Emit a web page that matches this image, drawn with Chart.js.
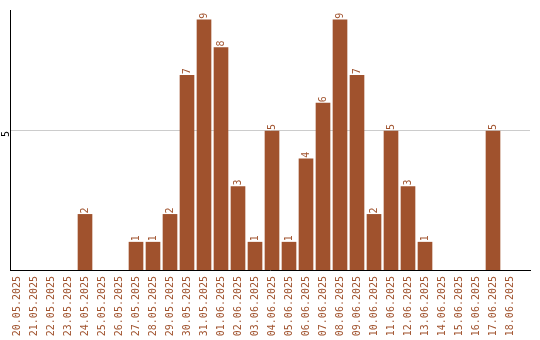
<!DOCTYPE html>
<html>
<head>
<meta charset="utf-8">
<script src="https://cdn.jsdelivr.net/npm/chart.js@4/dist/chart.umd.min.js"></script>
<style>
  html, body { margin: 0; padding: 0; background: #fff; }
</style>
</head>
<body>
<canvas id="dailyChart" width="540" height="340"></canvas>
<script>
// dates along the x axis
const dates = [
    '20.05.2025', '21.05.2025', '22.05.2025', '23.05.2025', '24.05.2025',
    '25.05.2025', '26.05.2025', '27.05.2025', '28.05.2025', '29.05.2025',
    '30.05.2025', '31.05.2025', '01.06.2025', '02.06.2025', '03.06.2025',
    '04.06.2025', '05.06.2025', '06.06.2025', '07.06.2025', '08.06.2025',
    '09.06.2025', '10.06.2025', '11.06.2025', '12.06.2025', '13.06.2025',
    '14.06.2025', '15.06.2025', '16.06.2025', '17.06.2025', '18.06.2025'
];
// count per day
const counts = [0, 0, 0, 0, 2, 0, 0, 1, 1, 2, 7, 9, 8, 3, 1, 5, 1, 4, 6, 9, 7, 2, 5, 3, 1, 0, 0, 0, 5, 0];
// y axis ticks that are labelled
const yTicks = [5];

const barColor = '#A0522D';
const monoFont = { family: 'DejaVu Sans Mono', size: 10 };

// values written above every bar, rotated like the axis labels
const barValues = {
    id: 'barValues',
    afterDatasetsDraw(chart) {
        const ctx = chart.ctx;
        const meta = chart.getDatasetMeta(0);
        ctx.save();
        ctx.fillStyle = barColor;
        ctx.font = '10px "DejaVu Sans Mono"';
        ctx.textAlign = 'left';
        ctx.textBaseline = 'middle';
        meta.data.forEach((bar, i) => {
            const v = counts[i];
            if (!v) return;
            ctx.save();
            ctx.translate(bar.x, bar.y - 1);
            ctx.rotate(-Math.PI / 2);
            ctx.fillText(String(v), 0, 0);
            ctx.restore();
        });
        ctx.restore();
    }
};

new Chart(document.getElementById('dailyChart'), {
    type: 'bar',
    data: {
        datasets: [{
            data: counts.map((v, i) => ({ x: i, y: v || null })),
            backgroundColor: barColor,
            borderWidth: 0,
            barThickness: 14
        }]
    },
    plugins: [barValues],
    options: {
        responsive: false,
        animation: false,
        devicePixelRatio: 1,
        skipNull: true,
        layout: { padding: { top: 10, right: 10, left: 0, bottom: 0 } },
        plugins: {
            legend: { display: false },
            tooltip: { enabled: false }
        },
        scales: {
            x: {
                type: 'linear',
                offset: false,
                min: -7 / 17,
                max: -7 / 17 + 520 / 17,
                afterBuildTicks: (axis) => { axis.ticks = dates.map((d, i) => ({ value: i })); },
                afterFit: (axis) => { axis.height = 70; },
                grid: { display: false, drawTicks: false, offset: false },
                border: { display: true, color: '#000', width: 1 },
                ticks: {
                    autoSkip: false,
                    minRotation: 90,
                    maxRotation: 90,
                    padding: 6,
                    color: barColor,
                    font: monoFont,
                    callback: (value) => dates[value]
                }
            },
            y: {
                min: 0,
                max: 9.35,
                afterBuildTicks: (axis) => { axis.ticks = yTicks.map(v => ({ value: v })); },
                afterFit: (axis) => { axis.width = 10; },
                grid: { color: '#cccccc', drawTicks: false },
                border: { display: true, color: '#000', width: 1 },
                ticks: {
                    minRotation: 90,
                    maxRotation: 90,
                    padding: 4,
                    color: '#000',
                    font: monoFont
                }
            }
        }
    }
});
</script>
</body>
</html>
